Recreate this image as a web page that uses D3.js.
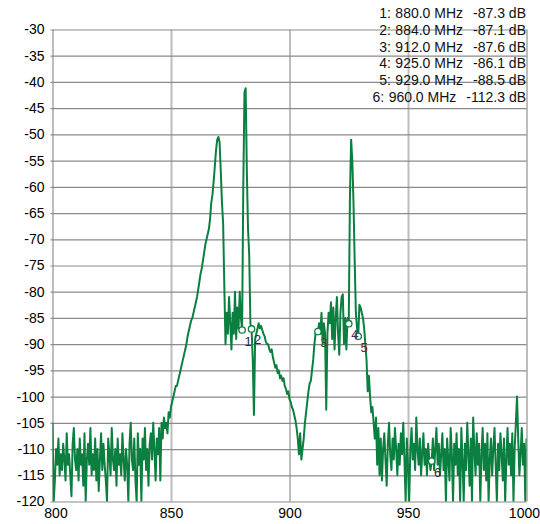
<!DOCTYPE html>
<html>
<head>
<meta charset="utf-8">
<script src="https://cdn.jsdelivr.net/npm/d3@7"></script>
<style>
  body { margin: 0; background: #fff; }
  svg { display: block; font-family: "Liberation Sans", Arial, sans-serif; }
</style>
</head>
<body>
<div id="chart"></div>
<script>
// —————————— DATA
// sweep: 800 MHz to 1000 MHz, one reading every 0.5 MHz
var freqStart = 800, freqStep = 0.5;

var levels = [
  -105, -120, -116, -110, -113, -108, -115, -111, -114, -109, // 800
  -112, -116, -107, -113, -111, -115, -119, -109, -106, -112, // 805
  -114, -110, -116, -108, -113, -111, -117, -107, -120, -112, // 810
  -109, -113, -106, -115, -111, -114, -108, -116, -110, -118, // 815
  -112, -107, -114, -109, -113, -116, -120, -108, -111, -115, // 820
  -106, -112, -114, -110, -117, -108, -113, -111, -115, -107, // 825
  -112, -116, -110, -113, -120, -109, -105, -112, -114, -108, // 830
  -116, -120, -107, -113, -110, -120, -108, -112, -106, -114, // 835
  -110, -117, -109, -107, -112, -105, -110, -116, -108, -111, // 840
  -106, -116, -105, -108, -104, -106, -105, -107, -103, -104, // 845
  -102, -101, -100, -99, -98, -98, -97, -96, -95, -94,        // 850
  -93, -92, -91, -90, -88.5, -87.5, -86.5, -85.5, -85, -84,   // 855
  -83, -82, -81, -79.5, -78, -76.5, -75.5, -74, -72.5, -71,   // 860
  -70, -69, -68, -66, -63, -61.5, -59, -56, -53, -51,         // 865
  -50.5, -51.5, -57, -63, -67, -79, -90, -84, -88, -81,       // 870
  -86, -91, -84, -88, -80, -89, -83, -87, -80, -85,           // 875
  -87.3, -60, -42, -41.2, -57, -68, -73, -86, -87.1, -93,     // 880
  -103.5, -89, -88, -87, -86, -87, -86.5, -87.3, -88, -88.5,  // 885
  -89.5, -90, -90, -91, -91.5, -91, -92.5, -93.5, -94.5, -94, // 890
  -95.5, -95, -96.5, -96, -97, -96.5, -98, -98.5, -99.5, -99, // 895
  -100.5, -101, -102, -102.5, -103.5, -104.5, -106, -108, -111, -107, // 900
  -112, -110, -108, -105, -103, -101, -99, -97.5, -97, -95,   // 905
  -93, -90, -88, -87.5, -87.6, -86, -88, -84, -90, -86,       // 910
  -88, -102.5, -88, -84, -86, -82, -89, -83, -91, -85,        // 915
  -81, -88, -92, -84, -81, -80.5, -90, -85, -91, -85,         // 920
  -86.1, -62, -51, -55, -63, -74, -84, -87, -88.5, -82.5,     // 925
  -83, -84, -85, -87, -90, -93, -99, -96, -100, -103,         // 930
  -102, -105, -108, -104, -113, -106, -115, -108, -116, -110, // 935
  -107, -112, -117, -109, -105, -111, -114, -108, -112, -106, // 940
  -110, -115, -109, -113, -107, -111, -105, -112, -120, -108, // 945
  -113, -120, -110, -106, -112, -109, -114, -104, -110, -113, // 950
  -108, -115, -111, -107, -113, -110, -115, -109, -112, -114, // 955
  -112.3, -108, -114, -110, -106, -113, -109, -115, -111, -107, // 960
  -114, -110, -120, -108, -112, -116, -106, -111, -120, -109, // 965
  -113, -107, -115, -110, -120, -106, -112, -120, -109, -114, // 970
  -105, -111, -117, -108, -120, -104, -110, -115, -107, -113, // 975
  -109, -120, -111, -106, -114, -109, -116, -107, -120, -112, // 980
  -108, -115, -110, -106, -113, -120, -109, -114, -107, -111, // 985
  -116, -108, -120, -112, -106, -113, -109, -115, -107, -120, // 990
  -110, -105, -100, -108, -115, -111, -106, -113, -109, -120, // 995
  -108                                                         // 1000
];

var freqTicks = [800, 850, 900, 950, 1000];
var levelTicks = [-30, -35, -40, -45, -50, -55, -60, -65, -70, -75,
                  -80, -85, -90, -95, -100, -105, -110, -115, -120];

var markerIds = [1, 2, 3, 4, 5, 6];
var markerFreqs = [880, 884, 912, 925, 929, 960];
var markerLevels = [-87.3, -87.1, -87.6, -86.1, -88.5, -112.3];
var markerColors = ["#1d2a5c", "#1d2a5c", "#4a3c30", "#3c3350", "#6e2020", "#333333"];

// —————————— LAYOUT
var margin = {top: 29.5, left: 52.5},
    width = 474,
    height = 472;
var traceColor = "#0b7f3f";

var svg = d3.select("#chart")
  .append("svg")
    .attr("width", 540)
    .attr("height", 524);

var g = svg.append("g")
    .attr("transform", "translate(" + margin.left + "," + margin.top + ")");

var x = d3.scaleLinear().domain([800, 1000]).range([0, width]);
var y = d3.scaleLinear().domain([-120, -30]).range([height, 0]);

// vertical grid + x labels
var xAxis = g.append("g")
    .attr("transform", "translate(0," + height + ")")
    .call(d3.axisBottom(x).tickValues(freqTicks).tickSize(-height).tickFormat(function(d) { return String(d); }));
xAxis.select(".domain").remove();
xAxis.selectAll(".tick line").attr("stroke", "#bdbdbd").attr("stroke-width", 2);
xAxis.selectAll(".tick text")
    .attr("y", 16.5).attr("dy", 0)
    .attr("font-size", 14).attr("fill", "#000");
// first label nudged right, last one kept inside the window
xAxis.selectAll(".tick text").filter(function(d) { return d === 800; }).attr("x", 3);
xAxis.selectAll(".tick text").filter(function(d) { return d === 1000; })
    .attr("text-anchor", "end").attr("x", 13);

// horizontal grid + y labels
var yAxis = g.append("g")
    .call(d3.axisLeft(y).tickValues(levelTicks).tickSize(-width).tickPadding(8).tickFormat(function(d) { return String(d); }));
yAxis.select(".domain").remove();
yAxis.selectAll(".tick line").attr("stroke", "#8a8a8a").attr("stroke-width", 1.2).attr("x1", -2);
yAxis.selectAll(".tick text").attr("font-size", 14).attr("fill", "#000");

// trace
g.append("clipPath").attr("id", "plotclip")
  .append("rect").attr("width", width).attr("height", height);

var line = d3.line()
    .x(function(d, i) { return x(freqStart + i * freqStep); })
    .y(function(d) { return y(d); });

g.append("path")
    .datum(levels)
    .attr("clip-path", "url(#plotclip)")
    .attr("fill", "none")
    .attr("stroke", traceColor)
    .attr("stroke-width", 2)
    .attr("stroke-linejoin", "round")
    .attr("d", line);

// markers
g.selectAll(".mk")
  .data(markerIds)
  .enter()
  .append("circle")
    .attr("class", "mk")
    .attr("cx", function(d, i) { return x(markerFreqs[i]); })
    .attr("cy", function(d, i) { return y(markerLevels[i]); })
    .attr("r", 3.2)
    .attr("fill", "#fff")
    .attr("stroke", traceColor)
    .attr("stroke-width", 1.3);

g.selectAll(".mklabel")
  .data(markerIds)
  .enter()
  .append("text")
    .attr("class", "mklabel")
    .attr("x", function(d, i) { return x(markerFreqs[i]) + 6; })
    .attr("y", function(d, i) { return y(markerLevels[i]) + 15.5; })
    .attr("text-anchor", "middle")
    .attr("font-size", 13)
    .attr("fill", function(d, i) { return markerColors[i]; })
    .text(function(d) { return d; });

// marker readout, top right
var legend = svg.append("g").attr("font-size", 14).attr("fill", "#111");
markerIds.forEach(function(id, i) {
  var yb = 18 + i * 16.8;
  var db = legend.append("text")
      .attr("x", 526).attr("y", yb).attr("text-anchor", "end")
      .text(markerLevels[i].toFixed(1) + " dB");
  var dbStart = 526 - db.node().getComputedTextLength();
  var fq = legend.append("text")
      .attr("x", dbStart - 10).attr("y", yb).attr("text-anchor", "end")
      .text(markerFreqs[i].toFixed(1) + " MHz");
  var fqStart = dbStart - 10 - fq.node().getComputedTextLength();
  legend.append("text")
      .attr("x", fqStart - 4.5).attr("y", yb).attr("text-anchor", "end")
      .text(id + ":");
});
</script>
</body>
</html>
